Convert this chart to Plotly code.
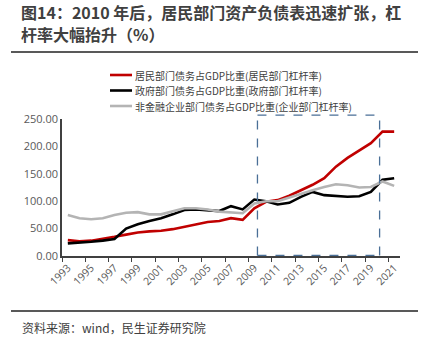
import plotly.graph_objects as go

years = list(range(1993, 2022))
household = [29, 27, 28, 31, 35, 39, 43, 45, 46, 49, 53, 58, 62, 64, 69, 66, 87, 99, 102, 110, 120, 130, 142, 163, 179, 192, 206, 227, 227]
government = [23, 24, 26, 28, 31, 50, 58, 64, 69, 76, 84, 85, 84, 82, 91, 85, 103, 100, 94, 97, 108, 117, 111, 110, 108, 109, 117, 139, 142]
corporate = [75, 69, 67, 69, 75, 79, 80, 76, 76, 81, 87, 87, 85, 81, 80, 78, 96, 100, 100, 107, 114, 120, 126, 131, 129, 125, 126, 136, 128]
names = ["居民部门债务占GDP比重(居民部门杠杆率)", "政府部门债务占GDP比重(政府部门杠杆率)", "非金融企业部门债务占GDP比重(企业部门杠杆率)"]
colors = ["#c00000", "#000000", "#b4b4b4"]
tick_years = list(range(1993, 2022, 2))
box_x = [2009.27, 2019.75]
box_y = [1, 257]
title_lines = ["图14：2010 年后，居民部门资产负债表迅速扩张，杠", "杆率大幅抬升（%）"]

W, H = 432, 338
ml, mr, mt, mb = 62, 32, 119, 82
xmin, xmax = 1992.5, 2021.5
ymin, ymax = 0, 250
font_cjk = "Noto Sans CJK SC"

fig = go.Figure()
for vals, nm, c in zip([household, government, corporate], names, colors):
    fig.add_trace(go.Scatter(x=years, y=vals, name=nm, mode="lines", showlegend=False,
                             line=dict(color=c, width=2.6)))

def px(v):
    return (v - xmin) / (xmax - xmin)

def py(v):
    return (v - ymin) / (ymax - ymin)

box_line = dict(color="#4a6f97", width=1.3, dash="dash")
bx0, bx1, by0, by1 = px(box_x[0]), px(box_x[1]), py(box_y[0]), py(box_y[1])
for (a, b, c, d) in [(bx0, by0, bx1, by0), (bx0, by1, bx1, by1), (bx0, by0, bx0, by1), (bx1, by0, bx1, by1)]:
    fig.add_shape(type="line", xref="paper", yref="paper", x0=a, y0=b, x1=c, y1=d, line=box_line)

ph = H - mt - mb
pw = W - ml - mr
def fx(p):
    return (p - ml) / pw
def fy(p):
    return (H - mb - p) / ph

# separator lines
for yy in [52, 311]:
    fig.add_shape(type="line", xref="paper", yref="paper", x0=fx(11), x1=fx(418),
                  y0=fy(yy), y1=fy(yy), line=dict(color="#595959", width=2))

# legend (drawn manually for tight spacing)
for i, (nm, c) in enumerate(zip(names, colors)):
    yy = 75 + i * 15.5
    fig.add_shape(type="line", xref="paper", yref="paper", x0=fx(110), x1=fx(132),
                  y0=fy(yy), y1=fy(yy), line=dict(color=c, width=2.6))
    fig.add_annotation(xref="paper", yref="paper", x=fx(133), y=fy(yy), xanchor="left",
                       yanchor="middle", showarrow=False, text=nm,
                       font=dict(family=font_cjk, size=10, color="#404040"))

for i, t in enumerate(title_lines):
    fig.add_annotation(xref="paper", yref="paper", x=fx(19), y=fy(12.5 + i * 21), xanchor="left",
                       yanchor="middle", showarrow=False, text="<b>" + t + "</b>",
                       font=dict(family=font_cjk, size=16, color="#404040"))
fig.add_annotation(xref="paper", yref="paper", x=fx(20), y=fy(327), xanchor="left", yanchor="middle",
                   showarrow=False, text="资料来源：wind，民生证券研究院",
                   font=dict(family=font_cjk, size=12, color="#404040"))

fig.update_layout(
    width=W, height=H, margin=dict(l=ml, r=mr, t=mt, b=mb),
    paper_bgcolor="white", plot_bgcolor="white",
    font=dict(family=font_cjk, color="#595959"),
    showlegend=False,
    xaxis=dict(range=[xmin, xmax], tickvals=tick_years, ticktext=[str(y) for y in tick_years],
               tickangle=-45, ticks="", showgrid=False, zeroline=False,
               showline=True, linecolor="#404040", linewidth=1.5,
               tickfont=dict(family="Open Sans", size=10.5, color="#595959"),
               minor=dict(tickvals=[y - 0.5 for y in tick_years], ticks="outside", ticklen=4,
                          tickcolor="#404040", tickwidth=1, showgrid=False)),
    yaxis=dict(range=[ymin, ymax], dtick=50, tickformat=".2f", showgrid=False, zeroline=False,
               showline=True, linecolor="#404040", linewidth=1.5, ticks="",
               tickfont=dict(family="Open Sans", size=11, color="#595959")),
)

fig.write_html("out.html")
